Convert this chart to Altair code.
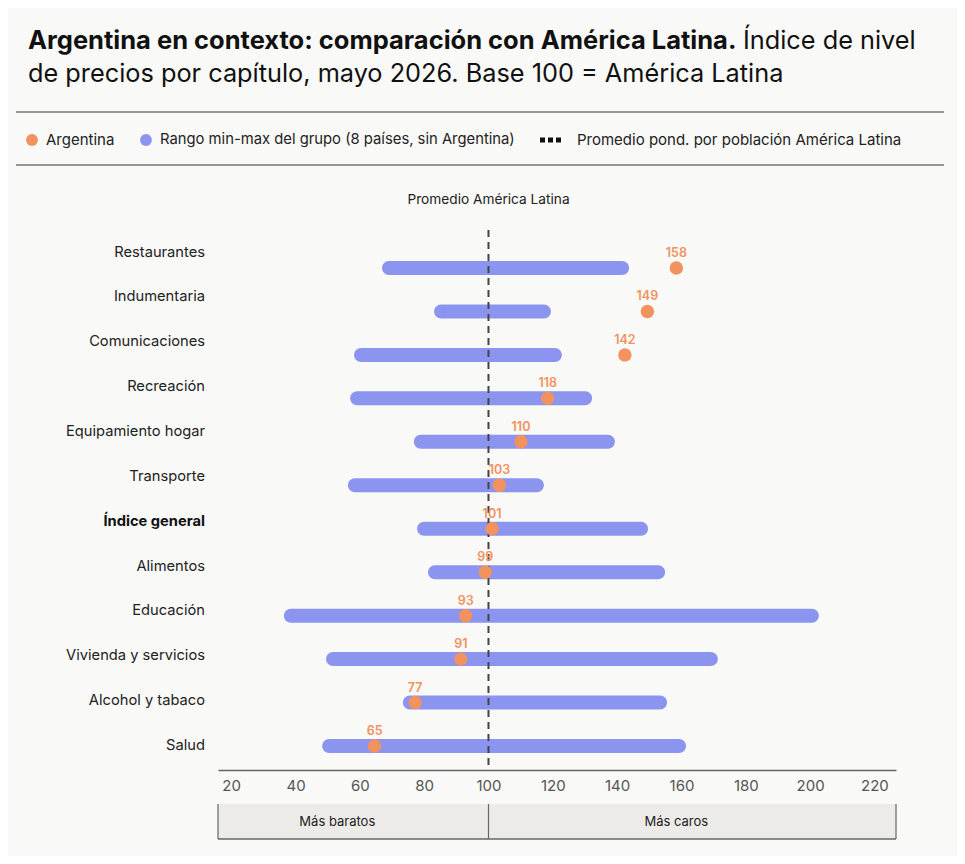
import altair as alt
import pandas as pd

# ---------------- data ----------------
categories = ["Restaurantes", "Indumentaria", "Comunicaciones", "Recreación",
              "Equipamiento hogar", "Transporte", "Índice general", "Alimentos",
              "Educación", "Vivienda y servicios", "Alcohol y tabaco", "Salud"]
group_min = [66.9, 83.1, 58.2, 57.0, 76.8, 56.3, 77.8, 81.2, 36.4, 49.5, 73.4, 48.3]
group_max = [143.7, 119.4, 122.8, 132.2, 139.3, 117.2, 149.6, 154.9, 202.7, 171.3, 155.5, 161.4]
argentina = [158.4, 149.4, 142.4, 118.4, 110.1, 103.4, 101.1, 99.0, 92.9, 91.4, 77.2, 64.6]
x_ticks = [20, 40, 60, 80, 100, 120, 140, 160, 180, 200, 220]
latam_avg = 100
x_domain = [15.9, 226.7]
zone_labels = ["Más baratos", "Más caros"]
zone_label_x = [53, 158.4]

title_bold = "Argentina en contexto: comparación con América Latina."
title_rest1 = "Índice de nivel"
title_line2 = "de precios por capítulo, mayo 2026. Base 100 = América Latina"
legend_labels = ["Argentina", "Rango min-max del grupo (8 países, sin Argentina)",
                 "Promedio pond. por población América Latina"]
avg_label = "Promedio América Latina"
bold_category = "Índice general"

# ---------------- styles ----------------
FONT = "Inter"
ORANGE = "#f2925e"
BLUE = "#8b95ef"
BG = "#f9f9f7"

df = pd.DataFrame({"cat": categories, "lo": group_min, "hi": group_max, "arg": argentina})
avg_df = pd.DataFrame({"v": [latam_avg]})
zones_df = pd.DataFrame({"zone": zone_labels,
                         "x0": [x_domain[0], latam_avg],
                         "x1": [latam_avg, x_domain[1]],
                         "lx": zone_label_x})
edges_df = pd.DataFrame({"e": [x_domain[0], latam_avg, x_domain[1]]})
one = pd.DataFrame({"a": [0]})

xscale = alt.Scale(domain=x_domain, nice=False, zero=False)
xaxis = alt.Axis(values=x_ticks, ticks=False, grid=False, title=None,
                 labelFont=FONT, labelFontSize=15, labelColor="#555",
                 labelPadding=8, domainColor="#666", domainWidth=1.5)

yrow = alt.Y("cat:N", scale=alt.Scale(type="point", domain=categories,
                                      range=[48, 526], padding=0), axis=None)
ylab = alt.Y("cat:N", scale=alt.Scale(type="point", domain=categories,
                                      range=[32.5, 526], padding=0), axis=None)

bars = alt.Chart(df).mark_bar(size=14, cornerRadius=7, color=BLUE).encode(
    x=alt.X("lo:Q", scale=xscale, axis=xaxis), x2="hi:Q", y=yrow)

avg_rule = alt.Chart(avg_df).mark_rule(strokeDash=[7, 5], color="#444", strokeWidth=2).encode(
    x=alt.X("v:Q", scale=xscale, axis=xaxis), y=alt.value(10), y2=alt.value(550))

avg_text = alt.Chart(avg_df).mark_text(font=FONT, fontSize=13.7, color="#222").encode(
    x=alt.X("v:Q", scale=xscale, axis=xaxis), y=alt.value(-20), text=alt.value(avg_label))

points = alt.Chart(df).mark_circle(size=180, color=ORANGE, opacity=1).encode(
    x=alt.X("arg:Q", scale=xscale, axis=xaxis), y=yrow)

point_labels = alt.Chart(df).mark_text(dy=-15, font=FONT, fontSize=12.5,
                                       fontWeight=600, color=ORANGE).encode(
    x=alt.X("arg:Q", scale=xscale, axis=xaxis), y=yrow,
    text=alt.Text("arg:Q", format=".0f"))

cat_labels = alt.Chart(df).transform_filter(alt.datum.cat != bold_category).mark_text(
    align="right", font=FONT, fontSize=14.7, color="#222").encode(
    x=alt.value(-13), y=ylab, text="cat:N")

cat_bold = alt.Chart(df).transform_filter(alt.datum.cat == bold_category).mark_text(
    align="right", font=FONT, fontSize=14.7, fontWeight="bold", color="#111").encode(
    x=alt.value(-13), y=ylab, text="cat:N")

# bottom zone boxes
zone_rect = alt.Chart(zones_df).mark_rect(color="#ecebe8").encode(
    x=alt.X("x0:Q", scale=xscale, axis=xaxis), x2="x1:Q",
    y=alt.value(584), y2=alt.value(619))
zone_edges = alt.Chart(edges_df).mark_rule(color="#666", strokeWidth=1.2).encode(
    x=alt.X("e:Q", scale=xscale, axis=xaxis), y=alt.value(584), y2=alt.value(619))
zone_bottom = alt.Chart(one).mark_rule(color="#666", strokeWidth=1.5).encode(
    x=alt.value(0), x2=alt.value(678), y=alt.value(619))
zone_text = alt.Chart(zones_df).mark_text(font=FONT, fontSize=13, color="#222").encode(
    x=alt.X("lx:Q", scale=xscale, axis=xaxis), y=alt.value(602), text="zone:N")

# title
t1 = alt.Chart(one).mark_text(align="left", baseline="alphabetic", font=FONT,
                              fontSize=25.5, fontWeight="bold", color="#111").encode(
    x=alt.value(-190), y=alt.value(-171), text=alt.value(title_bold))
t2 = alt.Chart(one).mark_text(align="left", baseline="alphabetic", font=FONT,
                              fontSize=25.3, color="#111").encode(
    x=alt.value(525), y=alt.value(-171), text=alt.value(title_rest1))
t3 = alt.Chart(one).mark_text(align="left", baseline="alphabetic", font=FONT,
                              fontSize=25.3, color="#111").encode(
    x=alt.value(-190), y=alt.value(-138), text=alt.value(title_line2))

# header lines
hl1 = alt.Chart(one).mark_rule(color="#777", strokeWidth=1.5).encode(
    x=alt.value(-202), x2=alt.value(726), y=alt.value(-108))
hl2 = alt.Chart(one).mark_rule(color="#777", strokeWidth=1.5).encode(
    x=alt.value(-202), x2=alt.value(726), y=alt.value(-55))

# legend
LY = -80
lg_dot1 = alt.Chart(one).mark_circle(size=140, color=ORANGE, opacity=1).encode(
    x=alt.value(-186), y=alt.value(LY))
lg_dot2 = alt.Chart(one).mark_circle(size=140, color=BLUE, opacity=1).encode(
    x=alt.value(-72), y=alt.value(LY))
lg_dash = alt.Chart(one).mark_rule(color="#111", strokeWidth=5, strokeDash=[5, 3]).encode(
    x=alt.value(322), x2=alt.value(345), y=alt.value(LY))
lg_t1 = alt.Chart(one).mark_text(align="left", font=FONT, fontSize=15, color="#222").encode(
    x=alt.value(-172), y=alt.value(LY), text=alt.value(legend_labels[0]))
lg_t2 = alt.Chart(one).mark_text(align="left", font=FONT, fontSize=14.8, color="#222").encode(
    x=alt.value(-58), y=alt.value(LY), text=alt.value(legend_labels[1]))
lg_t3 = alt.Chart(one).mark_text(align="left", font=FONT, fontSize=15, color="#222").encode(
    x=alt.value(359), y=alt.value(LY), text=alt.value(legend_labels[2]))

chart = alt.layer(
    zone_rect, zone_edges, zone_bottom, zone_text,
    bars, avg_rule, avg_text, points, point_labels, cat_labels, cat_bold,
    t1, t2, t3, hl1, hl2, lg_dot1, lg_dot2, lg_dash, lg_t1, lg_t2, lg_t3,
).resolve_scale(y="independent").properties(
    width=678, height=550,
    autosize=alt.AutoSizeParams(type="none"),
    padding={"left": 210, "top": 212, "right": 61, "bottom": 86},
    background=BG,
).configure_view(stroke=None)

chart.save("out.html", embed_options={"renderer": "svg", "actions": False})
